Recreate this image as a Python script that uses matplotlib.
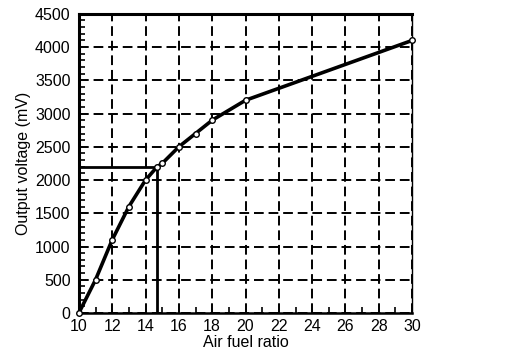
import numpy as np
import matplotlib
matplotlib.use("Agg")
import matplotlib.pyplot as plt
from matplotlib.ticker import MultipleLocator

# air fuel ratio vs sensor output voltage
afr = [10, 11, 12, 13, 14, 14.7, 15, 16, 17, 18, 20, 30]
voltage = [0, 500, 1100, 1600, 2000, 2200, 2250, 2500, 2700, 2900, 3200, 4100]
stoich_afr = 14.7
stoich_mv = 2200

plt.rcParams['font.family'] = ['Liberation Sans', 'DejaVu Sans']
plt.rcParams['font.size'] = 11

fig = plt.figure(figsize=(5.12, 3.64), dpi=100)
ax = fig.add_axes([0.154, 0.14, 0.651, 0.822])

ax.set_xlim(10, 30)
ax.set_ylim(0, 4500)
ax.xaxis.set_major_locator(MultipleLocator(2))
ax.xaxis.set_minor_locator(MultipleLocator(1))
ax.yaxis.set_major_locator(MultipleLocator(500))
ax.yaxis.set_minor_locator(MultipleLocator(100))

ax.grid(True, which='major', color='black', linestyle=(0, (5, 2.5)), linewidth=1.4)
ax.tick_params(which='both', direction='in', top=False, right=False, width=1.2)
ax.tick_params(axis='y', which='major', length=0, pad=6, labelsize=11.5)
ax.tick_params(axis='x', which='major', length=0, pad=4, labelsize=11.5)
ax.tick_params(which='minor', length=4)

# reference lines at stoichiometric point
ax.plot([10, stoich_afr], [stoich_mv, stoich_mv], color='black', lw=2, zorder=3)
ax.plot([stoich_afr, stoich_afr], [0, stoich_mv], color='black', lw=2, zorder=3)

ax.plot(afr, voltage, color='black', lw=2.6, marker='o', ms=4, mfc='white',
        mec='black', mew=1, zorder=4, clip_on=False)

for side, w in [('top', 2.2), ('left', 2.2), ('bottom', 1.8), ('right', 1)]:
    ax.spines[side].set_linewidth(w)

ax.set_xlabel('Air fuel ratio', fontsize=11.5, labelpad=1)
ax.set_ylabel('Output voltage (mV)', fontsize=11.5, labelpad=3)

fig.savefig('out.png', dpi=100)
